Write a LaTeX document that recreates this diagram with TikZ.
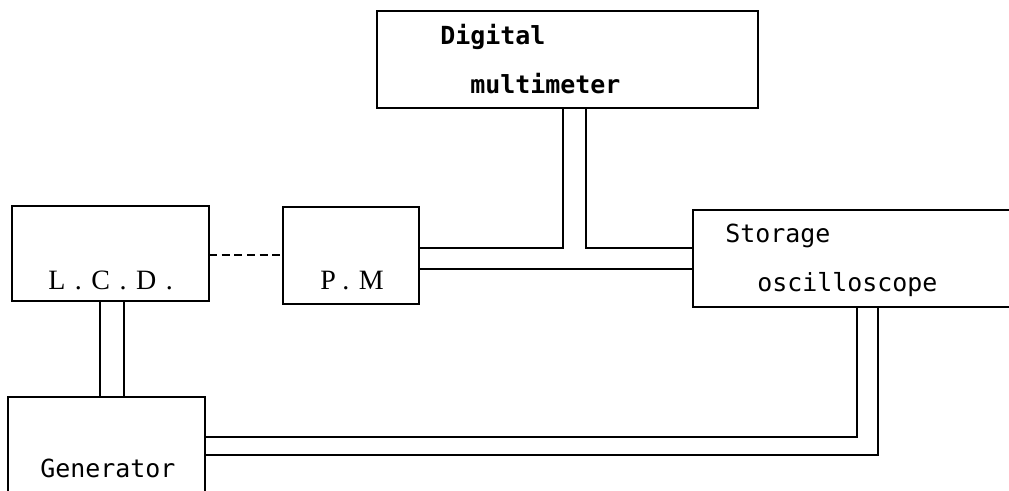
\documentclass[tikz,border=0pt]{standalone}
\usepackage{fontspec}
\usetikzlibrary{fit}
\newfontfamily\monofont{DejaVu Sans Mono}
\newfontfamily\spacedserif[LetterSpace=34]{Liberation Serif}
\tikzset{
  box/.style={draw, line width=1.4pt, inner sep=0pt, outer sep=0pt, rectangle},
  wire/.style={line width=1.4pt},
  dwire/.style={line width=1.2pt, dash pattern=on 6pt off 3.5pt},
  mono/.style={font=\monofont\fontsize{18.7}{22}\selectfont, inner sep=0pt, anchor=base west},
  monob/.style={font=\monofont\bfseries\fontsize{18.7}{22}\selectfont, inner sep=0pt, anchor=base west},
  serif/.style={font=\spacedserif\fontsize{21}{25}\selectfont, inner sep=0pt, anchor=base west},
}
\begin{document}
\begin{tikzpicture}[x=0.75pt,y=-0.75pt]
\useasboundingbox (0,0) rectangle (1009,491);
\clip (0,0) rectangle (1009,491);
\fill[white] (0,0) rectangle (1009,491);
% boxes
\node[box, fit={(377,11) (758,108)}] (dm) {};
\node[box, fit={(12,206) (209,301)}] (lcd) {};
\node[box, fit={(283,207) (419,304)}] (pm) {};
\node[box, fit={(693,210) (1040,307)}] (so) {};
\node[box, fit={(8,397) (205,520)}] (gen) {};
% texts
\node[monob] (t1) at (440,45) {Digital};
\node[monob] (t2) at (470,94) {multimeter};
\node[mono] (t3) at (725,243) {Storage};
\node[mono] (t4) at (757,292) {oscilloscope};
\node[mono] (t5) at (40,477) {Generator};
\node[serif] (t6) at (48,290) {L.C.D.};
\node[serif] (t7) at (320,290) {P.M};
% helper coordinates
\coordinate (a1) at (563,248);
\coordinate (a2) at (586,248);
\coordinate (a3) at (0,269);
\coordinate (d) at (0,255);
\coordinate (b1) at (100,0);
\coordinate (b2) at (124,0);
\coordinate (c1) at (857,437);
\coordinate (c2) at (878,455);
% connectors
\draw[wire] (dm.south -| a1) |- (pm.east |- a1);
\draw[wire] (dm.south -| a2) |- (so.west |- a2);
\draw[wire] (pm.east |- a3) -- (so.west |- a3);
\draw[dwire] (lcd.east |- d) -- (pm.west |- d);
\draw[wire] (lcd.south -| b1) -- (gen.north -| b1);
\draw[wire] (lcd.south -| b2) -- (gen.north -| b2);
\draw[wire] (gen.east |- c1) -| (so.south -| c1);
\draw[wire] (gen.east |- c2) -| (so.south -| c2);
\end{tikzpicture}
\end{document}
